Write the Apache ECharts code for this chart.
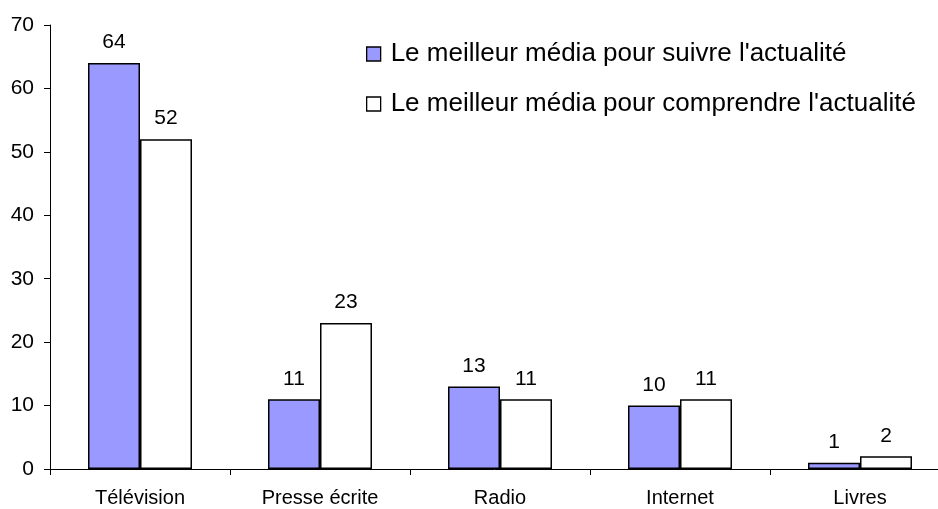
<!DOCTYPE html>
<html>
<head>
<meta charset="utf-8">
<script src="https://cdn.jsdelivr.net/npm/echarts@6/dist/echarts.min.js"></script>
<style>html,body{margin:0;padding:0;background:#fff}#c{width:938px;height:509px}</style>
</head>
<body>
<div id="c"></div>
<script>
const categories = ['Télévision', 'Presse écrite', 'Radio', 'Internet', 'Livres'];
const seriesNames = ['Le meilleur média pour suivre l\'actualité', 'Le meilleur média pour comprendre l\'actualité'];
const suivre = [64, 11, 13, 10, 1];
const comprendre = [52, 23, 11, 11, 2];
const yTicks = [0, 10, 20, 30, 40, 50, 60, 70];

const FONT = 'Liberation Sans';
const chart = echarts.init(document.getElementById('c'));
const barStyle = (color) => ({ color: color, borderColor: '#000', borderWidth: 1.5 });
chart.setOption({
  animation: false,
  textStyle: { fontFamily: FONT },
  grid: { left: 50, width: 900, top: 25, bottom: 40, containLabel: false, outerBoundsMode: 'none' },
  legend: {
    orient: 'vertical',
    left: 361, top: 36,
    itemWidth: 14, itemHeight: 14, itemGap: 24,
    icon: 'rect',
    textStyle: { fontFamily: FONT, fontSize: 26, color: '#000', padding: [0, 0, 0, 5] },
    data: [
      { name: seriesNames[0], itemStyle: { color: '#9999FF', borderColor: '#000', borderWidth: 1.3 } },
      { name: seriesNames[1], itemStyle: { color: '#FFFFFF', borderColor: '#000', borderWidth: 1.3 } }
    ]
  },
  xAxis: {
    type: 'category',
    data: categories,
    axisLine: { lineStyle: { color: '#000', width: 1 } },
    axisTick: { show: true, length: 6, lineStyle: { color: '#000' } },
    axisLabel: { color: '#000', fontSize: 20, fontFamily: FONT, margin: 19 }
  },
  yAxis: {
    type: 'value',
    min: yTicks[0], max: yTicks[yTicks.length - 1], interval: 10,
    axisLine: { show: true, lineStyle: { color: '#000', width: 1 } },
    axisTick: { show: true, length: 6, lineStyle: { color: '#000' } },
    splitLine: { show: false },
    axisLabel: { color: '#000', fontSize: 21, fontFamily: FONT, margin: 16 }
  },
  series: [
    {
      name: seriesNames[0], type: 'bar', data: suivre, barWidth: 52, barGap: '0%',
      itemStyle: barStyle('#9999FF'),
      label: { show: true, position: 'top', distance: 10, color: '#000', fontSize: 21, fontFamily: FONT }
    },
    {
      name: seriesNames[1], type: 'bar', data: comprendre, barWidth: 52, barGap: '0%',
      itemStyle: barStyle('#FFFFFF'),
      label: { show: true, position: 'top', distance: 10, color: '#000', fontSize: 21, fontFamily: FONT }
    }
  ]
});
</script>
</body>
</html>
